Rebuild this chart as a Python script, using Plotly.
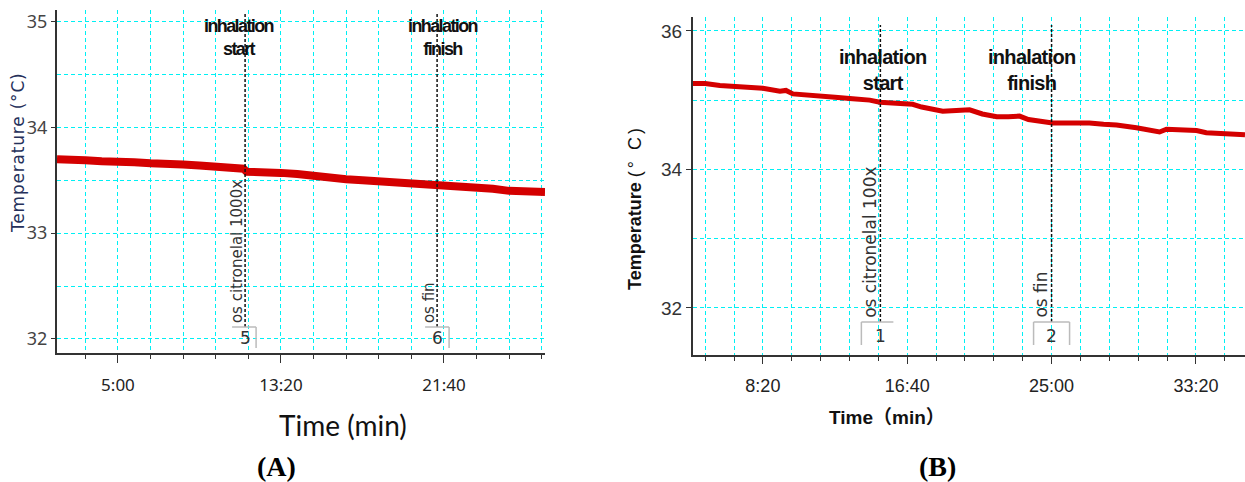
import plotly.graph_objects as go

# ---------------- data ----------------
# Panel A: time (s) and temperature (°C)
time_a = [113, 150, 200, 250, 300, 350, 400, 450, 500, 550, 600, 650, 685, 695,
          750, 800, 850, 900, 950, 1000, 1050, 1100, 1150, 1200, 1250, 1300,
          1350, 1400, 1450, 1500, 1550, 1610]
temp_a = [33.70, 33.70, 33.69, 33.68, 33.68, 33.67, 33.66, 33.66, 33.65, 33.64,
          33.63, 33.62, 33.61, 33.58, 33.58, 33.57, 33.56, 33.54, 33.52, 33.51,
          33.50, 33.49, 33.48, 33.47, 33.46, 33.45, 33.44, 33.44, 33.42, 33.40,
          33.39, 33.39]

# Panel B
time_b = [258, 300, 351, 400, 465, 500, 559, 580, 604, 650, 697, 750, 811, 870,
          905, 950, 1019, 1050, 1078, 1123, 1170, 1216, 1260, 1310, 1350, 1389,
          1420, 1503, 1560, 1631, 1680, 1725, 1794, 1850, 1874, 1898, 1950, 2002,
          2036, 2100, 2170]
temp_b = [35.24, 35.24, 35.21, 35.20, 35.18, 35.17, 35.13, 35.14, 35.09, 35.07,
          35.05, 35.04, 35.02, 35.00, 34.97, 34.96, 34.94, 34.90, 34.88, 34.84,
          34.85, 34.86, 34.80, 34.76, 34.76, 34.77, 34.72, 34.67, 34.67, 34.67,
          34.65, 34.64, 34.60, 34.56, 34.54, 34.58, 34.57, 34.56, 34.53, 34.52,
          34.50]

# tick labels
xtick_vals_a = [300, 800, 1300]
xtick_text_a = ["5:00", "13:20", "21:40"]
ytick_vals_a = [32, 33, 34, 35]
xtick_vals_b = [500, 1000, 1500, 2000]
xtick_text_b = ["8:20", "16:40", "25:00", "33:20"]
ytick_vals_b = [32, 34, 36]

# event markers (time s, number, rotated label, top label)
events_a = [(690, "5", "os citronelal 1000x", ["inhalation", "start"]),
            (1279, "6", "os fin", ["inhalation", "finish"])]
events_b = [(907, "1", "os citronelal 100x", ["inhalation", "start"]),
            (1500, "2", "os fin", ["inhalation", "finish"])]

# ---------------- layout helpers ----------------
W, H = 1245, 482
def px(x):
    return x / W
def py(y):
    return 1 - y / H

GRID = "#00F0F4"
AXC = "#333333"
DASH = "4px,3px"

fig = go.Figure()
fig.add_trace(go.Scatter(x=time_a, y=temp_a, mode="lines", xaxis="x", yaxis="y",
                         line=dict(color="#D40000", width=8), showlegend=False))
fig.add_trace(go.Scatter(x=time_b, y=temp_b, mode="lines", xaxis="x2", yaxis="y2",
                         line=dict(color="#D40000", width=5), showlegend=False))

# only the minor grid draws grid lines (it covers the major positions too)
common_axis = dict(showgrid=False, zeroline=False, showline=True, linecolor=AXC,
                   linewidth=2, tickcolor=AXC)

def minor_grid(dtick, ticks=""):
    d = dict(tick0=0, dtick=dtick, showgrid=True, gridcolor=GRID, griddash=DASH,
             gridwidth=1)
    if ticks:
        d.update(ticks=ticks, ticklen=4, tickcolor=AXC)
    return d

fig.update_layout(
    width=W, height=H, margin=dict(l=0, r=0, t=0, b=0),
    paper_bgcolor="white", plot_bgcolor="white",
    xaxis=dict(domain=[px(57), px(545)], range=[113, 1610], anchor="y",
               tickmode="array", tickvals=xtick_vals_a, ticktext=xtick_text_a,
               ticks="outside", ticklen=8, ticklabelstandoff=8,
               tickfont=dict(family="Noto Sans", size=17, color="#222"),
               minor=minor_grid(100, "outside"),
               **common_axis),
    yaxis=dict(domain=[py(353), py(10)], range=[31.867, 35.11], anchor="x",
               tickmode="array", tickvals=ytick_vals_a,
               ticks="outside", ticklen=4,
               tickfont=dict(family="Noto Sans", size=18, color="#444"),
               minor=minor_grid(0.5),
               **common_axis),
    xaxis2=dict(domain=[px(693), px(1245)], range=[258, 2170], anchor="y2",
                tickmode="array", tickvals=xtick_vals_b, ticktext=xtick_text_b,
                ticks="outside", ticklen=7, ticklabelstandoff=6,
                tickfont=dict(family="Liberation Sans", size=18, color="#222"),
                minor=minor_grid(100, "outside"),
                **common_axis),
    yaxis2=dict(domain=[py(355), py(17)], range=[31.32, 36.2], anchor="x2",
                tickmode="array", tickvals=ytick_vals_b,
                ticks="outside", ticklen=5,
                tickfont=dict(family="Liberation Sans", size=19, color="#333"),
                minor=minor_grid(1),
                **common_axis),
)

shapes = []
annotations = []

def add_events(events, xref, top_px, box_top_px, box_bot_px, box_spec, rot_size,
               rot_shift, top_font, top_spacing, top_y, top_shift, num_y):
    for (t, num, rot, top), (bx0, bx1, left_side, right_side), tsh in zip(events, box_spec, top_shift):
        shapes.append(dict(type="line", xref=xref, yref="paper", x0=t, x1=t,
                           y0=py(box_top_px), y1=py(top_px),
                           line=dict(color="#111", width=1.5, dash="3px,2px")))
        shapes.append(dict(type="line", xref=xref, yref="paper", xsizemode="pixel", xanchor=t,
                           x0=bx0, x1=bx1, y0=py(box_top_px), y1=py(box_top_px),
                           line=dict(color="#BBBBBB", width=1.5)))
        if left_side:
            shapes.append(dict(type="line", xref=xref, yref="paper", xsizemode="pixel", xanchor=t,
                               x0=bx0, x1=bx0, y0=py(box_top_px), y1=py(box_bot_px),
                               line=dict(color="#BBBBBB", width=1.5)))
        if right_side:
            shapes.append(dict(type="line", xref=xref, yref="paper", xsizemode="pixel", xanchor=t,
                               x0=bx1, x1=bx1, y0=py(box_top_px), y1=py(box_bot_px),
                               line=dict(color="#BBBBBB", width=1.5)))
        annotations.append(dict(xref=xref, yref="paper", x=t, y=py(num_y), text=num,
                                showarrow=False, xanchor="center", yanchor="middle",
                                font=dict(family="DejaVu Sans", size=17, color="#333")))
        annotations.append(dict(xref=xref, yref="paper", x=t, y=py(box_top_px - 2), text=rot,
                                showarrow=False, textangle=-90, xanchor="center",
                                yanchor="bottom", xshift=rot_shift,
                                font=dict(family="DejaVu Sans", size=rot_size, color="#333")))
        txt = "<br>".join(
            '<span style="letter-spacing:%spx">%s</span>' % (top_spacing, s) for s in top)
        annotations.append(dict(xref=xref, yref="paper", x=t, y=py(top_y), text="<b>" + txt + "</b>",
                                showarrow=False, xanchor="center", yanchor="middle",
                                xshift=tsh, align="center",
                                font=dict(family="Liberation Sans", size=top_font, color="#111")))

add_events(events_a, "x", 12, 327, 348,
           [(-13, 11, False, True), (-12, 12, False, True)],
           15, -8.5, 18, -1.6, 38, [-6, 6], 338)
add_events(events_b, "x2", 25, 322, 345,
           [(-19, 13, True, False), (-18, 18, True, True)],
           17, -11, 20, -0.7, 70, [2, -20], 336)

# axis titles and panel labels
annotations += [
    dict(xref="paper", yref="paper", x=px(18), y=py(153),
         text='<span style="letter-spacing:0.8px">Temperature (°C)</span>',
         textangle=-90, showarrow=False, xanchor="center", yanchor="middle",
         font=dict(family="DejaVu Sans", size=17, color="#25305A")),
    dict(xref="paper", yref="paper", x=px(343), y=py(425), text="Time (min)",
         showarrow=False, xanchor="center", yanchor="middle",
         font=dict(family="Lato", size=28, color="#111")),
    dict(xref="paper", yref="paper", x=px(276), y=py(466), text="<b>(A)</b>",
         showarrow=False, xanchor="center", yanchor="middle",
         font=dict(family="Liberation Serif", size=28, color="#000")),
    dict(xref="paper", yref="paper", x=px(635), y=py(208),
         text='<b>Temperature</b> <span style="letter-spacing:3px">(° C)</span>',
         textangle=-90, showarrow=False,
         xanchor="center", yanchor="middle",
         font=dict(family="Liberation Sans", size=18, color="#111")),
    dict(xref="paper", yref="paper", x=px(887), y=py(417), text="<b>Time（min）</b>",
         showarrow=False, xanchor="center", yanchor="middle",
         font=dict(family="Liberation Sans, Noto Sans CJK SC", size=19, color="#111")),
    dict(xref="paper", yref="paper", x=px(937), y=py(466), text="<b>(B)</b>",
         showarrow=False, xanchor="center", yanchor="middle",
         font=dict(family="Liberation Serif", size=28, color="#000")),
]

fig.update_layout(shapes=shapes, annotations=annotations)
fig.write_html("out.html")
